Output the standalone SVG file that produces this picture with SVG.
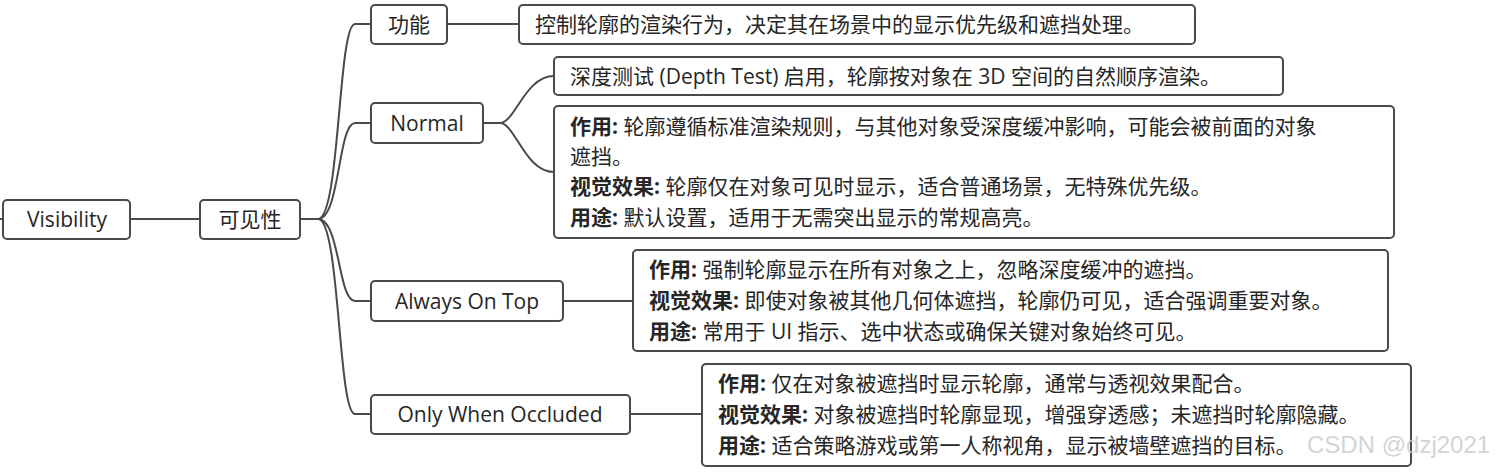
<svg xmlns="http://www.w3.org/2000/svg" width="1510" height="474" viewBox="0 0 1510 474">
<style>
.n{fill:#fff;stroke:#4a4a4a;stroke-width:2}
text{font-family:"Open Sans","Noto Sans CJK SC",sans-serif;font-size:21px;fill:#262626}
.c{text-anchor:middle}
b,.b{font-weight:bold}
.e{fill:none;stroke:#4a4a4a;stroke-width:2}
</style>
<rect width="1510" height="474" fill="#fff"/>
<g id="connectors">
<path class="e" d="M0 219H3M130 219H200M300 219H318C340 219 338 24 355 24H371M318 219C340 219 338 123 355 123H371M318 219C340 219 338 301 355 301H371M318 219C340 219 338 414 355 414H371M447 24H519M483 123H500C515 123 525 76 554 76M500 123C515 123 525 172 554 172M563 301H633M630 414H702"/>
</g>
<g id="visibility"><rect class="n" x="3" y="200" width="127" height="39" rx="4"/><text class="c" x="67" y="227">Visibility</text></g>
<g id="kejianxing"><rect class="n" x="200" y="200" width="100" height="39" rx="4"/><text class="c" x="250" y="227">可见性</text></g>
<g id="gongneng"><rect class="n" x="371" y="5" width="76" height="39" rx="4"/><text class="c" x="409" y="32">功能</text></g>
<g id="gongneng-desc"><rect class="n" x="519" y="5" width="676" height="39" rx="4"/><text x="535" y="32">控制轮廓的渲染行为，决定其在场景中的显示优先级和遮挡处理。</text></g>
<g id="normal"><rect class="n" x="371" y="103" width="112" height="40" rx="4"/><text class="c" x="427" y="131">Normal</text></g>
<g id="normal-depth"><rect class="n" x="554" y="57" width="729" height="38" rx="4"/><text x="570" y="84">深度测试 (Depth Test) 启用，轮廓按对象在 3D 空间的自然顺序渲染。</text></g>
<g id="normal-detail"><rect class="n" x="554" y="106" width="840" height="132" rx="4"/>
<text x="570" y="134"><tspan class="b">作用:</tspan> 轮廓遵循标准渲染规则，与其他对象受深度缓冲影响，可能会被前面的对象</text>
<text x="570" y="164">遮挡。</text>
<text x="570" y="194"><tspan class="b">视觉效果:</tspan> 轮廓仅在对象可见时显示，适合普通场景，无特殊优先级。</text>
<text x="570" y="225"><tspan class="b">用途:</tspan> 默认设置，适用于无需突出显示的常规高亮。</text></g>
<g id="always"><rect class="n" x="371" y="281" width="192" height="40" rx="4"/><text class="c" x="467" y="309">Always On Top</text></g>
<g id="always-detail"><rect class="n" x="633" y="250" width="755" height="101" rx="4"/>
<text x="649" y="277"><tspan class="b">作用:</tspan> 强制轮廓显示在所有对象之上，忽略深度缓冲的遮挡。</text>
<text x="649" y="308"><tspan class="b">视觉效果:</tspan> 即使对象被其他几何体遮挡，轮廓仍可见，适合强调重要对象。</text>
<text x="649" y="339"><tspan class="b">用途:</tspan> 常用于 UI 指示、选中状态或确保关键对象始终可见。</text></g>
<g id="occluded"><rect class="n" x="371" y="395" width="259" height="39" rx="4"/><text class="c" x="500" y="422">Only When Occluded</text></g>
<g id="occluded-detail"><rect class="n" x="702" y="364" width="709" height="102" rx="4"/>
<text x="718" y="391"><tspan class="b">作用:</tspan> 仅在对象被遮挡时显示轮廓，通常与透视效果配合。</text>
<text x="718" y="422"><tspan class="b">视觉效果:</tspan> 对象被遮挡时轮廓显现，增强穿透感；未遮挡时轮廓隐藏。</text>
<text x="718" y="453"><tspan class="b">用途:</tspan> 适合策略游戏或第一人称视角，显示被墙壁遮挡的目标。</text></g>
<text x="1307" y="453" style="font-family:'Liberation Sans',sans-serif;font-size:24px;fill:#c8c8c8;fill-opacity:0.8">CSDN @dzj2021</text>
</svg>
